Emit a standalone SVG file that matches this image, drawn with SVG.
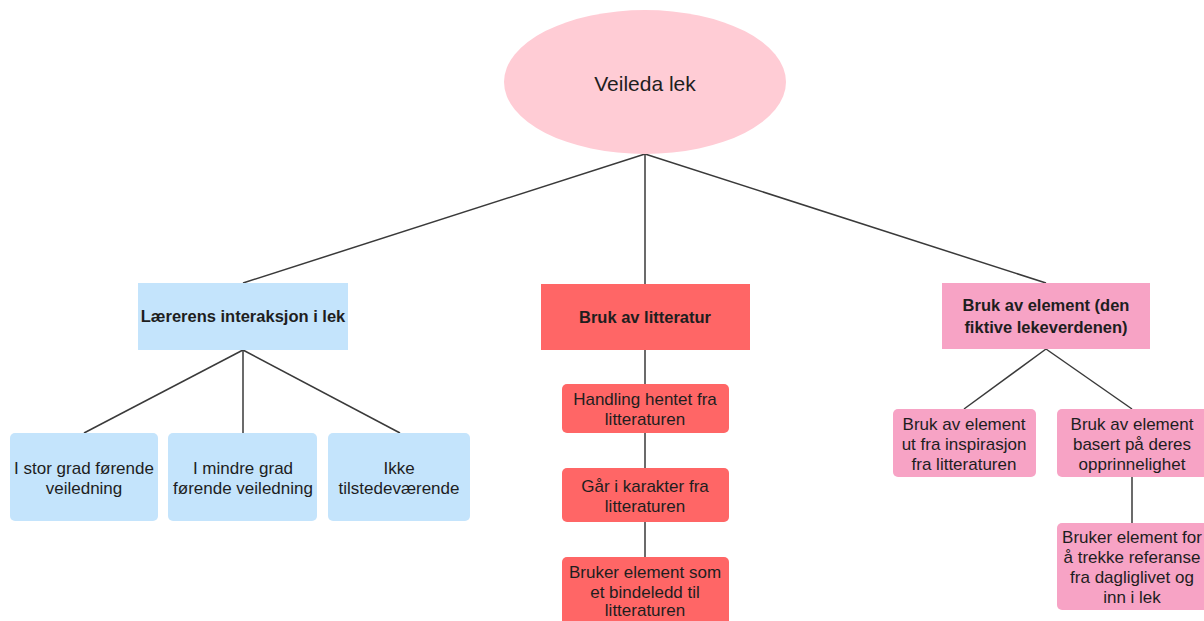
<svg xmlns="http://www.w3.org/2000/svg" width="1204" height="621" viewBox="0 0 1204 621">
<style>
.ln{stroke:#3a3a3a;stroke-width:1.5;fill:none}
.t{font-family:"Liberation Sans",Arial,sans-serif;font-size:17px;fill:#1e1e1e;text-anchor:middle}
.b{font-weight:bold;font-size:16.5px}
.blue{fill:#c4e4fc}
.red{fill:#ff6666}
.pink{fill:#f7a3c5}
</style>
<rect width="1204" height="621" fill="#ffffff"/>
<g id="connectors">
<line class="ln" x1="645" y1="154" x2="243" y2="283"/>
<line class="ln" x1="645" y1="154" x2="645" y2="284"/>
<line class="ln" x1="645" y1="154" x2="1046" y2="283"/>
<line class="ln" x1="243" y1="350" x2="84" y2="433"/>
<line class="ln" x1="243" y1="350" x2="243" y2="433"/>
<line class="ln" x1="243" y1="350" x2="400" y2="433"/>
<line class="ln" x1="645" y1="350" x2="645" y2="557"/>
<line class="ln" x1="1046" y1="349" x2="964" y2="409"/>
<line class="ln" x1="1046" y1="349" x2="1132" y2="409"/>
<line class="ln" x1="1132" y1="477" x2="1132" y2="523"/>
</g>
<g id="root">
<ellipse cx="645" cy="82" rx="141" ry="72" fill="#ffccd5"/>
<text class="t" x="645" y="91" style="font-size:21px">Veileda lek</text>
</g>
<g id="n-laerer">
<rect class="blue" x="138" y="283" width="210" height="67"/>
<text class="t b" x="243" y="322">Lærerens interaksjon i lek</text>
</g>
<g id="n-litteratur">
<rect class="red" x="541" y="284" width="209" height="66"/>
<text class="t b" x="645" y="323">Bruk av litteratur</text>
</g>
<g id="n-element">
<rect class="pink" x="942" y="283" width="208" height="66"/>
<text class="t b" x="1046" y="311">Bruk av element (den</text>
<text class="t b" x="1046" y="333">fiktive lekeverdenen)</text>
</g>
<g id="n-stor">
<rect class="blue" x="10" y="433" width="148" height="88" rx="5"/>
<text class="t" x="84" y="474">I stor grad førende</text>
<text class="t" x="84" y="494">veiledning</text>
</g>
<g id="n-mindre">
<rect class="blue" x="168" y="433" width="149" height="88" rx="5"/>
<text class="t" x="243" y="474">I mindre grad</text>
<text class="t" x="243" y="494">førende veiledning</text>
</g>
<g id="n-ikke">
<rect class="blue" x="328" y="433" width="142" height="88" rx="5"/>
<text class="t" x="399" y="474">Ikke</text>
<text class="t" x="399" y="494">tilstedeværende</text>
</g>
<g id="n-handling">
<rect class="red" x="562" y="384" width="167" height="49" rx="5"/>
<text class="t" x="645" y="405">Handling hentet fra</text>
<text class="t" x="645" y="425">litteraturen</text>
</g>
<g id="n-karakter">
<rect class="red" x="562" y="468" width="167" height="54" rx="5"/>
<text class="t" x="645" y="492">Går i karakter fra</text>
<text class="t" x="645" y="512">litteraturen</text>
</g>
<g id="n-bindeledd">
<rect class="red" x="562" y="557" width="167" height="74" rx="5"/>
<text class="t" x="645" y="578">Bruker element som</text>
<text class="t" x="645" y="598">et bindeledd til</text>
<text class="t" x="645" y="616">litteraturen</text>
</g>
<g id="n-inspirasjon">
<rect class="pink" x="893" y="409" width="143" height="68" rx="5"/>
<text class="t" x="964" y="430">Bruk av element</text>
<text class="t" x="964" y="450">ut fra inspirasjon</text>
<text class="t" x="964" y="470">fra litteraturen</text>
</g>
<g id="n-opprinnelighet">
<rect class="pink" x="1057" y="409" width="160" height="68" rx="5"/>
<text class="t" x="1132" y="430">Bruk av element</text>
<text class="t" x="1132" y="450">basert på deres</text>
<text class="t" x="1132" y="470">opprinnelighet</text>
</g>
<g id="n-daglig">
<rect class="pink" x="1057" y="523" width="160" height="87" rx="5"/>
<text class="t" x="1132" y="543">Bruker element for</text>
<text class="t" x="1132" y="563">å trekke referanse</text>
<text class="t" x="1132" y="583">fra dagliglivet og</text>
<text class="t" x="1132" y="603">inn i lek</text>
</g>
</svg>
